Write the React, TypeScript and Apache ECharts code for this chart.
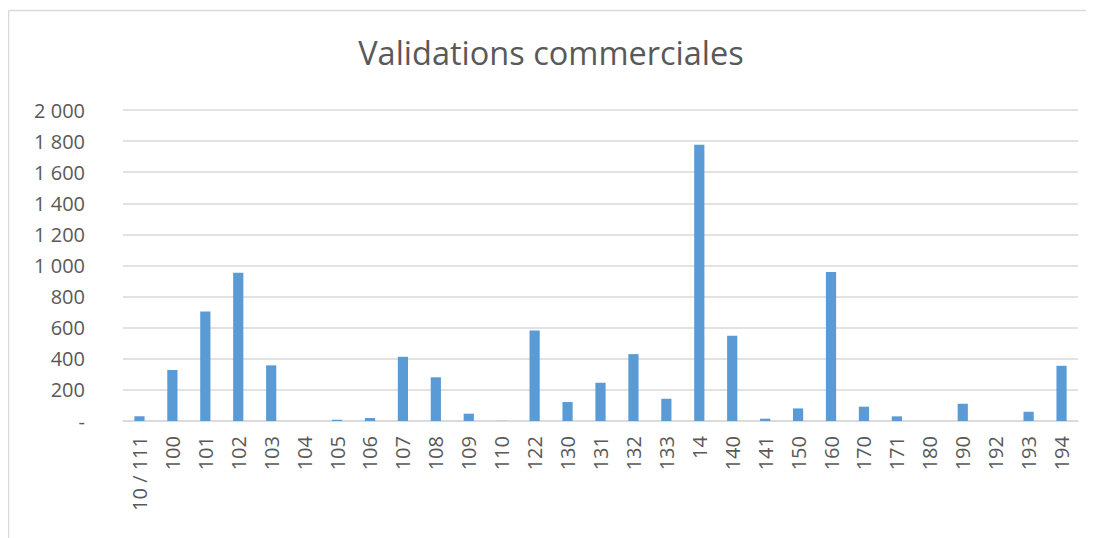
import React, { useEffect, useRef } from "react";
import * as echarts from "echarts";

const categories = [
  "10 / 111", "100", "101", "102", "103", "104", "105", "106", "107", "108",
  "109", "110", "122", "130", "131", "132", "133", "14", "140", "141",
  "150", "160", "170", "171", "180", "190", "192", "193", "194",
];
const values = [
  30, 328, 704, 953, 358, 0, 8, 19, 413, 281,
  47, 1, 582, 122, 246, 430, 143, 1777, 548, 15,
  81, 959, 92, 30, 0, 111, 0, 60, 355,
];
const title = "Validations commerciales";

const fmt = (v: number) => {
  if (v === 0) return "-";
  return String(v).replace(/\B(?=(\d{3})+(?!\d))/g, " ");
};

export default function App() {
  const ref = useRef<HTMLDivElement>(null);
  useEffect(() => {
    if (!ref.current) return;
    document.body.style.overflow = "hidden";
    const chart = echarts.init(ref.current, undefined, { renderer: "svg" });
    chart.setOption({
      animation: false,
      textStyle: { fontFamily: "Open Sans" },
      title: {
        text: title,
        left: "center",
        top: 23,
        textStyle: { fontSize: 32.5, fontWeight: "normal", color: "#595959", fontFamily: "Open Sans" },
      },
      graphic: [
        {
          type: "line",
          shape: { x1: 0.5, y1: 2.5, x2: 1086, y2: 2.5 },
          style: { stroke: "#d9d9d9", lineWidth: 1.5 },
          silent: true,
        },
        {
          type: "line",
          shape: { x1: 0.5, y1: 2.5, x2: 0.5, y2: 530 },
          style: { stroke: "#d9d9d9", lineWidth: 1.5 },
          silent: true,
        },
      ],
      grid: { left: 115, right: 16, top: 102, bottom: 117, containLabel: false },
      xAxis: {
        type: "category",
        data: categories,
        axisLine: { lineStyle: { color: "#d9d9d9", width: 1.5 } },
        axisTick: { show: false },
        axisLabel: {
          rotate: 90,
          interval: 0,
          color: "#595959",
          fontSize: 20,
          margin: 15,
          fontFamily: "Open Sans",
        },
      },
      yAxis: {
        type: "value",
        min: 0,
        max: 2000,
        interval: 200,
        axisLine: { show: false },
        axisTick: { show: false },
        splitLine: { lineStyle: { color: "#d9d9d9", width: 1.5 } },
        axisLabel: {
          color: "#595959",
          fontSize: 20,
          margin: 38,
          formatter: fmt,
          fontFamily: "Open Sans",
        },
      },
      series: [
        {
          type: "bar",
          data: values,
          barWidth: "31%",
          itemStyle: { color: "#5b9bd5" },
        },
      ],
    });
    return () => chart.dispose();
  }, []);
  return <div ref={ref} style={{ width: 1086, height: 530 }} />;
}
